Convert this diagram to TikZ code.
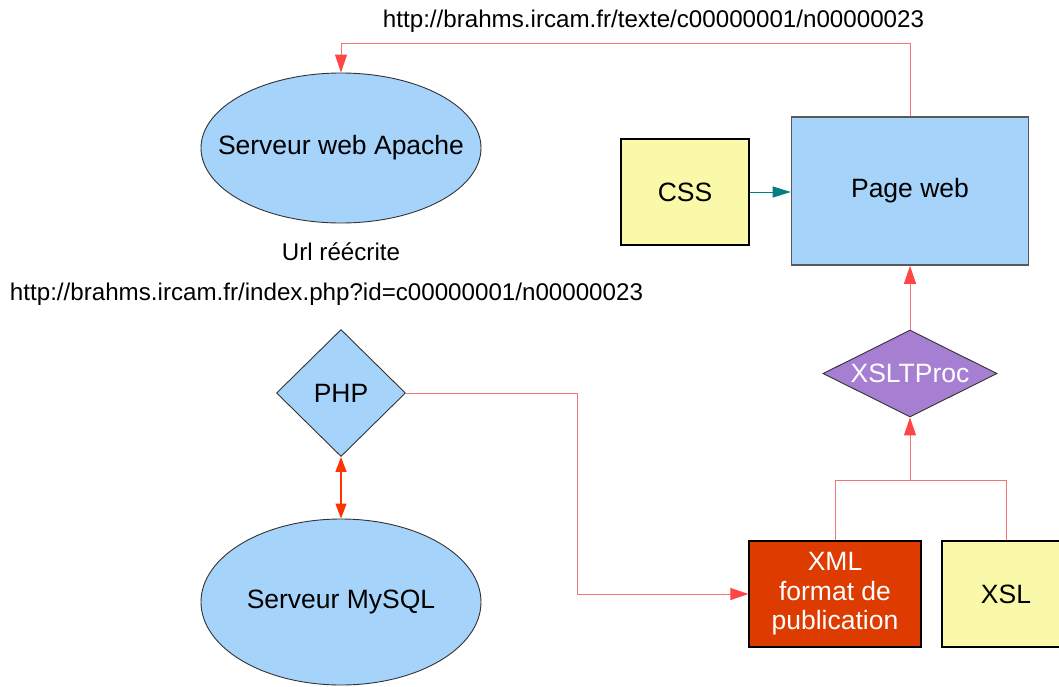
\documentclass[tikz,border=0pt]{standalone}
\usepackage{fontspec}
\setmainfont{Liberation Sans}
\usepackage{xcolor}
\usetikzlibrary{arrows.meta,shapes.geometric,calc}

\definecolor{skyfill}{HTML}{A6D3FA}
\definecolor{paleyellow}{HTML}{F9F9A9}
\definecolor{xmlred}{HTML}{DD3B00}
\definecolor{lilac}{HTML}{A67FD2}
\definecolor{linkred}{HTML}{F07676}
\definecolor{tipred}{HTML}{FF4646}
\definecolor{dbred}{HTML}{FF3300}
\definecolor{cssteal}{HTML}{008080}

\begin{document}
\begin{tikzpicture}[x=1pt, y=-1pt,
    every node/.style={font=\fontsize{26.5}{29.5}\selectfont, inner sep=0pt},
    server/.style={ellipse, draw=black!80, fill=skyfill, line width=0.9pt},
    box/.style={rectangle, draw=black, line width=1.2pt},
    choice/.style={diamond, draw=black!80, line width=0.9pt},
    url/.style={font=\fontsize{24.15}{28}\selectfont},
    link/.style={linkred, line width=1pt, -{Triangle[length=18pt,width=12pt,color=tipred]}}]
        \useasboundingbox (0,0) rectangle (1059,686);

        % Servers
        \node[server, minimum width=280pt, minimum height=150pt] (apache) at (341,148) {\makebox[0pt]{Serveur web Apache}};
        \node[server, minimum width=280pt, minimum height=166pt] (mysql) at (341,602) {\makebox[0pt]{Serveur MySQL}};

        % Processors
        \node[choice, fill=skyfill, minimum width=129pt, minimum height=127pt] (php) at (341,393) {PHP};
        \node[choice, aspect=2, fill=lilac, text=white, minimum width=174pt, minimum height=87pt] (xslt) at (910,373.5) {XSLTProc};

        % Documents
        \node[box, fill=paleyellow, minimum width=128pt, minimum height=106pt] (css) at (685,192) {CSS};
        \node[box, draw=black!65, line width=1.6pt, fill=skyfill, minimum width=237pt, minimum height=148pt] (page) at (910,191) {Page web};
        \node[box, fill=xmlred, text=white, align=center, minimum width=172pt, minimum height=106pt] (xml) at (835,594) {XML\\format de\\publication};
        \node[box, fill=paleyellow, minimum width=128pt, minimum height=106pt] (xsl) at (1006,594) {XSL};

        % Urls
        \node[url] (texturl) at (653.5,21) {http://brahms.ircam.fr/texte/c00000001/n00000023};
        \node[url] (rewrite) at (341,252) {Url réécrite};
        \node[url] (phpurl) at (326.5,294) {http://brahms.ircam.fr/index.php?id=c00000001/n00000023};

        % Page web back to Apache
        \coordinate (topbend) at (910,43);
        \draw[link] (page.north) -- (topbend) -| (apache.north);

        % CSS into page
        \draw[cssteal, line width=1pt, -{Triangle[length=18pt,width=11pt]}] (css.east) -- (css.east -| page.west);

        % PHP and MySQL
        \draw[dbred, line width=1.2pt, {Triangle[length=15pt,width=11pt]}-{Triangle[length=15pt,width=11pt]}] (php.south) -- (mysql.north);

        % PHP to XML
        \coordinate (phpbend) at (577,393);
        \draw[link] (php.east) -- (phpbend) |- (xml.west);

        % XML + XSL through XSLTProc
        \coordinate (fork) at (910,480);
        \draw[linkred, line width=1pt] (xml.north) |- (fork) -| (xsl.north);
        \draw[link] (fork) -- (xslt.south);
        \draw[link] (xslt.north) -- (page.south);
    \end{tikzpicture}
\end{document}
